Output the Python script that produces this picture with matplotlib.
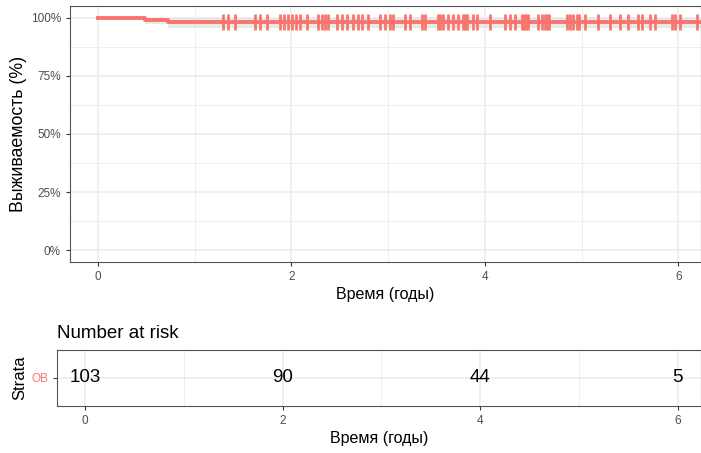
import matplotlib
matplotlib.use("Agg")
import matplotlib.pyplot as plt
import numpy as np

# survival curve (percent)
step_times = [0.0, 0.49, 0.72]
step_surv = [100.0, 99.03, 98.06]
ci_low = [100.0, 97.1, 95.4]
ci_high = [100.0, 100.0, 100.0]

# censored observations (years)
censor_times = [1.29, 1.34, 1.42, 1.62, 1.68, 1.75, 1.88, 1.92, 1.96, 2.01,
                2.05, 2.09, 2.16, 2.28, 2.32, 2.35, 2.38, 2.47, 2.52, 2.57,
                2.64, 2.69, 2.73, 2.79, 2.92, 2.97, 3.02, 3.05, 3.17, 3.23,
                3.35, 3.38, 3.52, 3.54, 3.57, 3.62, 3.67, 3.72, 3.77, 3.80,
                3.82, 3.88, 3.92, 4.05, 4.21, 4.26, 4.31, 4.38, 4.41, 4.43,
                4.45, 4.55, 4.59, 4.62, 4.64, 4.66, 4.85, 4.88, 4.91, 4.95,
                4.97, 5.04, 5.17, 5.29, 5.40, 5.48, 5.58, 5.63, 5.71, 5.76,
                5.94, 5.97, 6.02, 6.19]

# number at risk table
risk_times = [0, 2, 4, 6]
risk_counts = [103, 90, 44, 5]
strata = ["OB"]

x_ticks = [0, 2, 4, 6]
y_ticks = [0, 25, 50, 75, 100]
y_labels = ["0%", "25%", "50%", "75%", "100%"]

col = "#F8766D"
grid_col = "#ebebeb"
W, H = 701, 453

plt.rcParams["font.family"] = ["Liberation Sans", "DejaVu Sans"]

fig = plt.figure(figsize=(W / 100, H / 100), dpi=100)


def style(ax):
    for s in ax.spines.values():
        s.set_color("#555555")
        s.set_linewidth(0.8)
    ax.tick_params(colors="#333333", labelcolor="#4d4d4d", labelsize=8.5, length=3, width=0.8)
    ax.set_axisbelow(True)


# ---- survival plot
ax = fig.add_axes([70 / W, 1 - 262 / H, (W - 70) / W, (262 - 6) / H])
x0 = -28 / 96.7
x1 = (W - 98) / 96.7
ax.set_xlim(x0, x1)
ax.set_ylim(-5, 105)
for v in [1, 3, 5]:
    ax.axvline(v, color=grid_col, lw=0.6, zorder=0)
for v in [12.5, 37.5, 62.5, 87.5]:
    ax.axhline(v, color=grid_col, lw=0.6, zorder=0)
for v in x_ticks:
    ax.axvline(v, color=grid_col, lw=1.1, zorder=0)
for v in y_ticks:
    ax.axhline(v, color=grid_col, lw=1.1, zorder=0)

t = step_times + [x1 + 1]
ax.fill_between(t, ci_low + [ci_low[-1]], ci_high + [ci_high[-1]], step="post",
                color="#dcdcdc", alpha=0.6, lw=0, zorder=1)
ax.step(t, step_surv + [step_surv[-1]], where="post", color=col, lw=2.8, zorder=2)
cy = [step_surv[np.searchsorted(step_times, c, side="right") - 1] for c in censor_times]
ax.plot(censor_times, cy, ls="none", marker="|", ms=11, mew=2, color=col, zorder=3)

ax.set_xticks(x_ticks)
ax.set_yticks(y_ticks)
ax.set_yticklabels(y_labels)
style(ax)
ax.set_xlabel("Время (годы)", fontsize=11.5, labelpad=3)
ax.set_ylabel("Выживаемость (%)", fontsize=12.8, labelpad=3)

# ---- risk table
ax2 = fig.add_axes([57 / W, 1 - 406 / H, (W - 57) / W, (406 - 350) / H])
t0 = -28 / 98.8
ax2.set_xlim(t0, (W - 85) / 98.8)
ax2.set_ylim(-0.5, 0.5)
for v in [1, 3, 5]:
    ax2.axvline(v, color=grid_col, lw=0.6, zorder=0)
for v in x_ticks:
    ax2.axvline(v, color=grid_col, lw=1.1, zorder=0)
ax2.axhline(0, color=grid_col, lw=1.1, zorder=0)
for xt, n in zip(risk_times, risk_counts):
    ax2.text(xt, 0, str(n), ha="center", va="center", fontsize=13.5, color="black")
ax2.set_xticks(x_ticks)
ax2.set_yticks([0])
ax2.set_yticklabels(strata)
style(ax2)
ax2.get_yticklabels()[0].set_color(col)
ax2.set_xlabel("Время (годы)", fontsize=11.5, labelpad=3)
ax2.set_ylabel("Strata", fontsize=12, labelpad=3)
ax2.set_title("Number at risk", loc="left", fontsize=13.5, pad=9)

fig.savefig("out.png", dpi=100)
